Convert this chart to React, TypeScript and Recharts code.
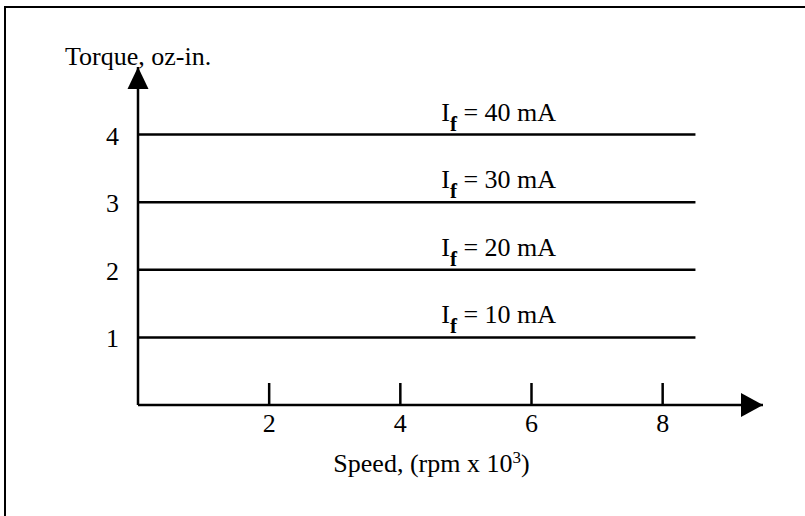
import React from "react";
import { LineChart, Line, XAxis, YAxis, ReferenceDot } from "recharts";

// ---- data ----
const speedTicks = [2, 4, 6, 8];
const torqueTicks = [1, 2, 3, 4];
const fieldCurrents = [40, 30, 20, 10]; // mA
const torqueLevels = [4, 3, 2, 1]; // oz-in.
const speedStart = 0;
const speedEnd = 8.5; // x 10^3 rpm
const labelSpeed = 5.5;
const speedMax = 9.53;
const torqueMax = 5;

const FONT = "'Liberation Serif', 'Times New Roman', Times, serif";

const series = torqueLevels.map((t, i) => ({
  current: fieldCurrents[i],
  torque: t,
  data: [
    { speed: speedStart, torque: t },
    { speed: speedEnd, torque: t },
  ],
}));

const XTick = (props: any) => {
  const { x, y, payload } = props;
  return (
    <g>
      <line x1={x} y1={y} x2={x} y2={y - 22} stroke="#000" strokeWidth={2.5} />
      <text x={x} y={y + 27} textAnchor="middle" fontFamily={FONT} fontSize={26} fill="#000">
        {payload.value}
      </text>
    </g>
  );
};

const YTick = (props: any) => {
  const { x, y, payload } = props;
  return (
    <text x={x - 19} y={y + 10} textAnchor="end" fontFamily={FONT} fontSize={26} fill="#000">
      {payload.value}
    </text>
  );
};

const UpArrow = (props: any) => {
  const { cx, cy } = props;
  return <polygon points={`${cx},${cy} ${cx - 10.5},${cy + 22} ${cx + 10.5},${cy + 22}`} fill="#000" />;
};

const RightArrow = (props: any) => {
  const { cx, cy } = props;
  return <polygon points={`${cx},${cy} ${cx - 22},${cy - 12} ${cx - 22},${cy + 12}`} fill="#000" />;
};

const makeCurrentLabel = (current: number) => (props: any) => {
  const { cx, cy } = props;
  return (
    <text x={cx} y={cy - 14} textAnchor="middle" fontFamily={FONT} fontSize={26} fill="#000">
      I
      <tspan fontSize={21} fontWeight="bold" dy={10}>
        f
      </tspan>
      <tspan dy={-10}>{` = ${current} mA`}</tspan>
    </text>
  );
};

const XLabel = (props: any) => {
  const vb = props.viewBox || { x: 138, y: 405, width: 625, height: 40 };
  return (
    <text x={vb.x + vb.width / 2 - 19} y={vb.y + 67} textAnchor="middle" fontFamily={FONT} fontSize={26} fill="#000">
      Speed, (rpm x 10
      <tspan fontSize={17} dy={-9}>3</tspan>
      <tspan dy={9}>)</tspan>
    </text>
  );
};

const YLabel = (props: any) => {
  const vb = props.viewBox || { x: 78, y: 67, width: 60, height: 338 };
  return (
    <text x={vb.x - 13} y={vb.y - 2} textAnchor="start" fontFamily={FONT} fontSize={26} fill="#000">
      Torque, oz-in.
    </text>
  );
};

export default function App() {
  return (
    <div style={{ position: "absolute", left: 0, top: 0, width: 805, height: 516, background: "#fff", overflow: "hidden" }}>
      <div
        style={{
          position: "absolute",
          left: 4,
          top: 6,
          width: 801,
          height: 510,
          boxSizing: "border-box",
          borderLeft: "2px solid #000",
          borderTop: "2px solid #000",
        }}
      />
      <div style={{ position: "absolute", left: 0, top: 0 }}>
        <LineChart width={805} height={516} margin={{ top: 67, right: 42, left: 78, bottom: 71 }}>
          <XAxis
            type="number"
            dataKey="speed"
            domain={[0, speedMax]}
            ticks={speedTicks}
            height={40}
            axisLine={{ stroke: "#000", strokeWidth: 2.5 }}
            tickLine={false}
            tickSize={0}
            tickMargin={0}
            tick={<XTick />}
            interval={0}
            allowDataOverflow
            label={<XLabel />}
          />
          <YAxis
            type="number"
            dataKey="torque"
            domain={[0, torqueMax]}
            ticks={torqueTicks}
            width={60}
            axisLine={{ stroke: "#000", strokeWidth: 2.5 }}
            tickLine={false}
            tickSize={0}
            tickMargin={0}
            tick={<YTick />}
            interval={0}
            allowDataOverflow
            label={<YLabel />}
          />
          {series.map((s) => (
            <Line
              key={s.current}
              data={s.data}
              dataKey="torque"
              type="linear"
              stroke="#000"
              strokeWidth={2.5}
              dot={false}
              activeDot={false}
              isAnimationActive={false}
            />
          ))}
          {series.map((s) => (
            <ReferenceDot
              key={`lbl-${s.current}`}
              x={labelSpeed}
              y={s.torque}
              ifOverflow="visible"
              shape={makeCurrentLabel(s.current)}
            />
          ))}
          <ReferenceDot x={0} y={torqueMax} ifOverflow="visible" shape={<UpArrow />} />
          <ReferenceDot x={speedMax} y={0} ifOverflow="visible" shape={<RightArrow />} />
        </LineChart>
      </div>
    </div>
  );
}
